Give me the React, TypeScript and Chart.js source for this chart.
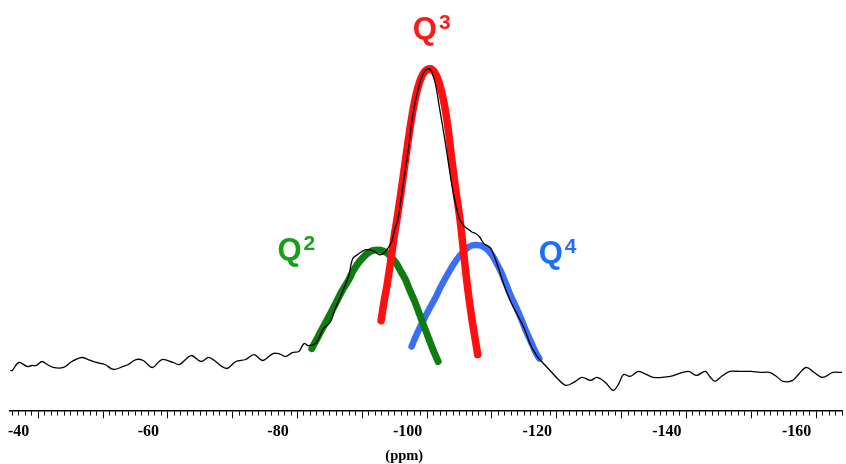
import { useEffect, useRef } from 'react';
import { Chart, registerables } from 'chart.js';

Chart.register(...registerables);

// Measured 29Si NMR spectrum (ppm, intensity a.u.)
const spectrumPpm = [
  -35.7, -36.0, -37.0, -38.3, -39.0, -39.7, -40.6, -41.4, -42.3, -43.9,
  -45.2, -46.7, -47.7, -49.0, -50.3, -51.6, -53.1, -53.9, -55.1, -56.2,
  -57.6, -59.1, -60.8, -61.8, -63.6, -65.1, -66.4, -69.0, -70.5, -72.0,
  -73.3, -74.6, -76.2, -77.1, -78.2, -79.2, -80.2, -81.0, -81.7, -82.8,
  -83.4, -84.0, -85.1, -85.8, -86.8, -87.9, -88.5, -89.4, -90.4, -91.2,
  -92.0, -92.7, -93.5, -94.5, -95.0, -95.5, -96.3, -97.1, -97.8, -98.6,
  -99.4, -100.2, -100.7, -101.3, -101.9, -102.6, -103.2, -103.8, -104.4, -105.0,
  -105.7, -106.3, -106.9, -107.6, -108.1, -108.8, -109.4, -109.9, -110.9, -111.9,
  -112.9, -114.0, -115.0, -116.0, -117.0, -117.8, -119.1, -120.1, -121.4, -122.6,
  -123.9, -125.2, -126.2, -127.5, -128.7, -129.5, -130.3, -131.3, -132.6, -133.8,
  -134.9, -136.2, -137.5, -140.3, -141.5, -142.9, -143.6, -144.4, -145.4, -146.7,
  -148.3, -150.0, -151.4, -152.8, -153.9, -154.9, -156.4, -157.4, -158.5, -159.7,
  -161.0, -162.6, -164.0,
];
const spectrumInt = [
  38, 38, 46, 42, 43, 43, 47, 44, 41, 41,
  47, 51, 49, 46, 44, 39, 42, 44, 49, 48,
  41, 49, 46, 44, 53, 47, 51, 40, 47, 49,
  54, 48, 55, 55, 52, 56, 57, 65, 63, 65,
  72, 80, 87, 100, 115, 133, 150, 155, 159, 159,
  157, 154, 157, 167, 180, 190, 225, 260, 295, 320,
  336, 341, 338, 325, 302, 275, 250, 225, 205, 190,
  183, 180, 177, 175, 172, 165, 163, 160, 143, 123,
  107, 93, 80, 63, 52, 46, 37, 30, 23, 26,
  31, 28, 31, 26, 18, 24, 34, 32, 37, 34,
  31, 31, 32, 37, 33, 37, 32, 27, 32, 37,
  37, 37, 36, 36, 32, 27, 28, 35, 41, 36,
  31, 36, 36,
];

// Fitted Q3 component
const q3Ppm = [
  -92.9, -93.3, -93.8, -94.2, -94.5, -94.9, -95.3, -95.9, -96.5, -97.1,
  -97.7, -98.3, -98.9, -99.6, -100.5, -101.2, -101.8, -102.3, -102.8, -103.3,
  -103.8, -104.4, -105.1, -105.7, -106.3, -106.9, -107.4, -107.8,
];
const q3Int = [
  88, 105, 123, 140, 153, 172, 188, 214, 242, 270,
  295, 315, 329, 338, 341, 337, 328, 316, 300, 278,
  250, 220, 188, 152, 118, 90, 70, 54,
];

// Fitted Q2 component
const q2Ppm = [
  -82.2, -83.1, -84.0, -85.0, -85.8, -86.8, -87.9, -88.6, -89.4, -90.2,
  -90.9, -91.7, -92.5, -93.2, -94.0, -94.6, -95.3, -95.9, -96.6, -97.3,
  -98.1, -98.8, -99.6, -100.3, -100.9, -101.7,
];
const q2Int = [
  60, 71, 82, 94, 104, 117, 129, 138, 146, 152,
  156, 158.5, 159, 158, 155, 151, 145, 138, 130, 119,
  107, 95, 81, 69, 59, 47,
];

// Fitted Q4 component
const q4Ppm = [
  -97.6, -98.3, -99.1, -100.1, -101.2, -102.1, -103.2, -104.1, -105.0, -105.7,
  -106.3, -106.9, -107.6, -108.2, -108.9, -109.5, -110.1, -110.7, -111.4, -112.1,
  -112.9, -113.7, -114.5, -115.2, -116.0, -116.6, -117.3,
];
const q4Int = [
  62, 73, 84, 97, 110, 122, 135, 145, 153, 158,
  161.5, 163.5, 164, 163.5, 161.5, 158, 153, 146, 137, 126,
  113, 102, 90, 78.5, 67, 58, 50,
];

// Peak annotations
const labelMain = ['Q', 'Q', 'Q'];
const labelSup = ['2', '3', '4'];
const labelPpm = [-76.9, -97.8, -117.2];
const labelInt = [149, 371, 146];
const labelColors = ['#17a017', '#ff1a1a', '#1f6dff'];

// Axis
const axisMin = -164.0;
const axisMax = -35.65;
const axisTitle = '(ppm)';

const toXY = (xs: number[], ys: number[]) => xs.map((x, i) => ({ x, y: ys[i] }));

const qLabelPlugin = {
  id: 'qLabels',
  afterDatasetsDraw(chart: any) {
    const { ctx, scales } = chart;
    const xs = scales.x;
    const ys = scales.y;
    ctx.save();
    labelPpm.forEach((p, i) => {
      const px = xs.getPixelForValue(p);
      const py = ys.getPixelForValue(labelInt[i]);
      ctx.fillStyle = labelColors[i];
      ctx.textAlign = 'left';
      ctx.textBaseline = 'alphabetic';
      ctx.font = 'bold 31px "Liberation Sans", Arial, sans-serif';
      ctx.fillText(labelMain[i], px, py);
      const w = ctx.measureText(labelMain[i]).width;
      ctx.font = 'bold 21px "Liberation Sans", Arial, sans-serif';
      ctx.fillText(labelSup[i], px + w + 2, py - 10);
    });
    ctx.restore();
  },
};

export default function App() {
  const ref = useRef<HTMLCanvasElement | null>(null);

  useEffect(() => {
    if (!ref.current) return;
    const fitLine = {
      pointRadius: 0,
      cubicInterpolationMode: 'monotone',
      borderCapStyle: 'round',
      fill: false,
    };
    const chart = new Chart(ref.current, {
      type: 'line',
      data: {
        datasets: [
          {
            label: 'spectrum',
            data: toXY(spectrumPpm, spectrumInt),
            borderColor: '#000000',
            borderWidth: 1.3,
            pointRadius: 0,
            tension: 0.35,
            fill: false,
          },
          {
            label: 'Q3',
            data: toXY(q3Ppm, q3Int),
            borderColor: '#ff0f0f',
            borderWidth: 7.5,
            ...fitLine,
          },
          {
            label: 'Q2',
            data: toXY(q2Ppm, q2Int),
            borderColor: '#0e7c0e',
            borderWidth: 7,
            ...fitLine,
          },
          {
            label: 'Q4',
            data: toXY(q4Ppm, q4Int),
            borderColor: '#3c6ef5',
            borderWidth: 6.5,
            ...fitLine,
          },
        ],
      },
      options: {
        responsive: false,
        animation: false,
        devicePixelRatio: 1,
        layout: { padding: { left: 10, right: 0, top: 0, bottom: 0 } },
        plugins: {
          legend: { display: false },
          tooltip: { enabled: false },
        },
        scales: {
          x: {
            type: 'linear',
            min: axisMin,
            max: axisMax,
            reverse: true,
            border: { display: true, color: '#000000', width: 1.5 },
            grid: {
              display: true,
              drawOnChartArea: false,
              drawTicks: true,
              tickLength: 8,
              tickColor: '#000000',
              tickWidth: 1,
              tickBorderDash: (c: any) =>
                c.tick && Math.round(c.tick.value) % 10 === 0 ? [] : [4, 40],
            },
            ticks: {
              stepSize: 1,
              autoSkip: false,
              maxRotation: 0,
              minRotation: 0,
              includeBounds: false,
              padding: 4,
              labelOffset: -19.5,
              color: '#000000',
              font: { family: '"Liberation Serif", "Times New Roman", serif', size: 16, weight: 'bold' },
              callback: (v: any) => {
                const r = Math.round(Number(v));
                return r % 20 === 0 ? String(r) : '';
              },
            },
            title: {
              display: true,
              text: axisTitle + '            ',
              color: '#000000',
              padding: { top: 3, bottom: 1 },
              font: { family: '"Liberation Serif", "Times New Roman", serif', size: 14.5, weight: 'bold', lineHeight: 1 },
            },
          },
          y: {
            type: 'linear',
            display: false,
            min: -2,
            max: 410,
          },
        },
      },
      plugins: [qLabelPlugin],
    } as any);
    return () => chart.destroy();
  }, []);

  return (
    <div style={{ position: 'absolute', left: 0, top: 0, width: 846, height: 464, background: '#ffffff' }}>
      <canvas ref={ref} width={846} height={464} />
    </div>
  );
}
